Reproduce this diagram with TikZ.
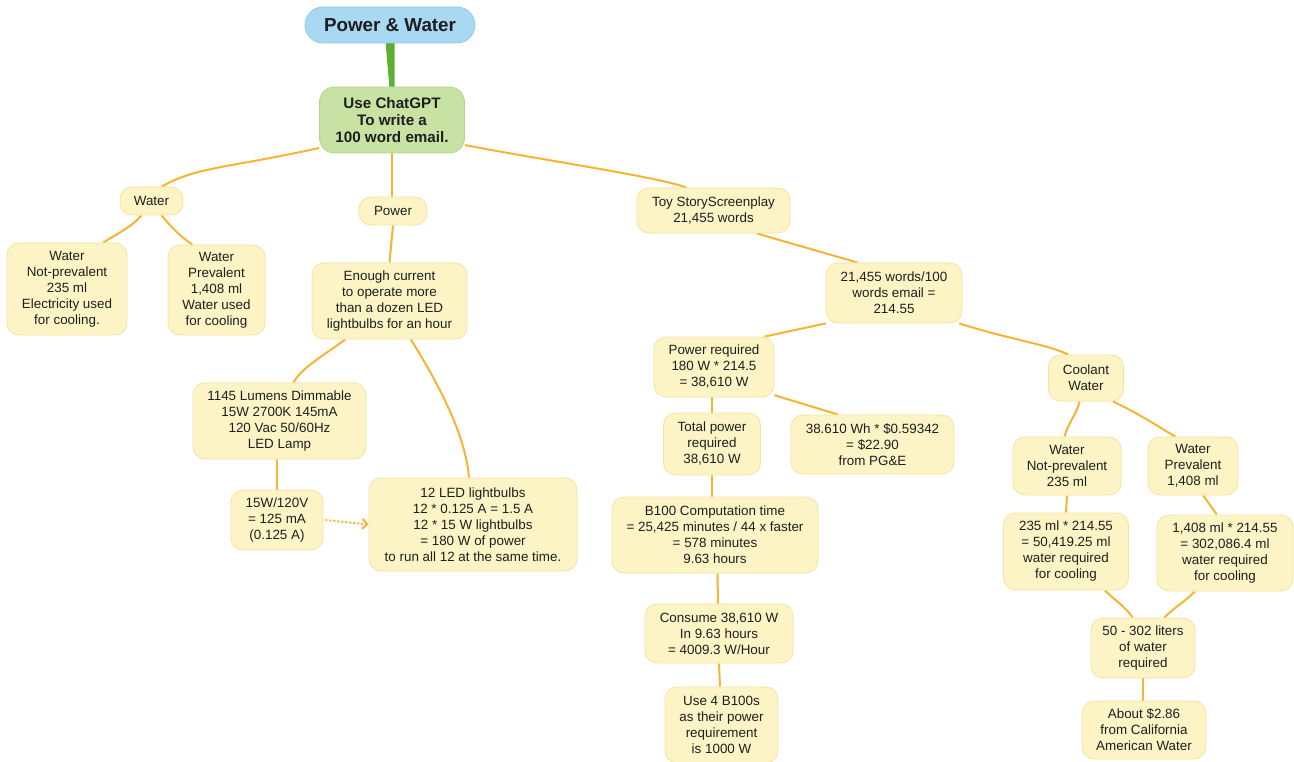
\documentclass[tikz,border=0pt]{standalone}
\usepackage{fontspec}
\setmainfont{Liberation Sans}
\usetikzlibrary{arrows.meta,calc,backgrounds}
\definecolor{yel}{HTML}{FDF4C6}
\definecolor{yelb}{HTML}{F5E2A0}
\definecolor{org}{HTML}{F6B530}
\definecolor{blu}{HTML}{A8D8F2}
\definecolor{blub}{HTML}{8FCBEA}
\definecolor{grn}{HTML}{C7E2A3}
\definecolor{grnb}{HTML}{B3D68C}
\definecolor{grnl}{HTML}{5FAF35}
\definecolor{txt}{HTML}{1E1E1E}
\begin{document}
\begin{tikzpicture}[x=1pt,y=-1pt,
  bx/.style={draw=yelb, fill=yel, line width=0.8pt, rounded corners=12pt, align=center, inner sep=1pt, text=txt, font=\fontsize{13.4}{16}\selectfont},
  wh/.style 2 args={minimum width=#1pt, minimum height=#2pt},
  con/.style={draw=org, line width=2pt},
]
\useasboundingbox (0,0) rectangle (1294,762);

\node[draw=blub, fill=blu, line width=0.8pt, rounded corners=18pt, wh={170}{36}, inner sep=0pt, font=\fontsize{18.8}{22}\selectfont\bfseries, text=txt] (ti) at (390,25) {Power \& Water};
\node[draw=grnb, fill=grn, line width=0.8pt, rounded corners=15pt, wh={145}{66}, inner sep=0pt, align=center, font=\fontsize{15.2}{16.7}\selectfont\bfseries, text=txt] (gr) at (392,120) {Use ChatGPT\\To write a\\100 word email.};

\node[bx, wh={63}{28}] (wat) at (151.5,201) {Water};
\node[bx, wh={68}{28}] (pw) at (393,211) {Power};
\node[bx, wh={153}{45}] (ts) at (713.5,210.5) {Toy StoryScreenplay\\21,455 words};
\node[bx, wh={120}{92}] (wnp) at (67,289) {Water\\Not-prevalent\\235 ml\\Electricity used\\for cooling.};
\node[bx, wh={97}{90}] (wp) at (216.5,290) {Water\\Prevalent\\1,408 ml\\Water used\\for cooling};
\node[bx, wh={155}{76}] (en) at (389.5,301) {Enough current\\to operate more\\than a dozen LED\\lightbulbs for an hour};
\node[bx, wh={173}{76}] (lum) at (279.5,421) {1145 Lumens Dimmable\\15W 2700K 145mA\\120 Vac 50/60Hz\\LED Lamp};
\node[bx, wh={92}{60}] (w15) at (277,520) {15W/120V\\= 125 mA\\(0.125 A)};
\node[bx, wh={208}{93}] (led) at (473,524.5) {12 LED lightbulbs\\12 * 0.125 A = 1.5 A\\12 * 15 W lightbulbs\\= 180 W of power\\to run all 12 at the same time.};
\node[bx, wh={136}{60}] (wd) at (894,293) {21,455 words/100\\words email =\\214.55};
\node[bx, wh={120}{60}] (pr) at (714,367) {Power required\\180 W * 214.5\\= 38,610 W};
\node[bx, wh={75}{46}] (cool) at (1086,378) {Coolant\\Water};
\node[bx, wh={97}{62}] (tot) at (712,444) {Total power\\required\\38,610 W};
\node[bx, wh={163}{59}] (pge) at (872.5,444.5) {38.610 Wh * \$0.59342\\= \$22.90\\from PG\&E};
\node[bx, wh={206}{76}] (b100) at (715,535) {B100 Computation time\\= 25,425 minutes / 44 x faster\\= 578 minutes\\9.63 hours};
\node[bx, wh={108}{58}] (wnp2) at (1067,466) {Water\\Not-prevalent\\235 ml};
\node[bx, wh={90}{58}] (wp2) at (1193,466) {Water\\Prevalent\\1,408 ml};
\node[bx, wh={125}{77}] (c235) at (1066,551.5) {235 ml * 214.55\\= 50,419.25 ml\\water required\\for cooling};
\node[bx, wh={136}{76}] (c1408) at (1225,553) {1,408 ml * 214.55\\= 302,086.4 ml\\water required\\for cooling};
\node[bx, wh={104}{60}] (l50) at (1143,648) {50 - 302 liters\\of water\\required};
\node[bx, wh={124}{58}] (ab) at (1144,730) {About \$2.86\\from California\\American Water};
\node[bx, wh={148}{59}] (cons) at (719,633.5) {Consume 38,610 W\\In 9.63 hours\\= 4009.3 W/Hour};
\node[bx, wh={113}{76}] (u4) at (721.5,725) {Use 4 B100s\\as their power\\requirement\\is 1000 W};

\begin{scope}[on background layer]
\fill[white] (0,0) rectangle (1294,762);
\fill[grnl] ($(ti.south)+(-4.5,-2)$) -- ($(ti.south)+(4.5,-2)$) -- ($(gr.north)+(2.5,2)$) -- ($(gr.north)+(-2.5,2)$) -- cycle;
\draw[con] (gr.201) .. controls +(-90,20) and +(35,-20) .. (wat.55);
\draw[con] (gr.south) -- (gr.south |- pw.north);
\draw[con] (gr.-19) .. controls +(90,17) and +(-25,-10) .. (ts.140);
\draw[con] (wat.235) .. controls +(-10,12) and +(12,-8) .. (wnp.52);
\draw[con] (wat.-55) .. controls +(10,12) and +(-12,-8) .. (wp.118);
\draw[con] (pw.south) -- (en.north);
\draw[con] (en.221) .. controls +(-20,15) and +(8,-15) .. (lum.70);
\draw[con] (en.-61) .. controls +(22,35) and +(-3,-45) .. (led.95);
\draw[con] (w15.north) -- (w15.north |- lum.south);
\draw[con] (ts.-28) -- (wd.140);
\draw[con] (wd.204) -- (pr.31);
\draw[con] (wd.-25) .. controls +(50,16) and +(-20,-10) .. (cool.127);
\draw[con] (tot.north) -- (tot.north |- pr.south);
\draw[con] (pr.-25) -- (pge.139);
\draw[con] (tot.south) -- (tot.south |- b100.north);
\draw[con] ($(b100.south)+(2.5,0)$) -- ($(cons.north)+(-1,0)$);
\draw[con] (cons.south) -- ($(u4.north)+(-1.5,0)$);
\draw[con] (cool.-105) .. controls +(-3,12) and +(3,-12) .. (wnp2.95);
\draw[con] (cool.-41) .. controls +(25,12) and +(-20,-12) .. (wp2.121);
\draw[con] (wnp2.south) -- (c235.north);
\draw[con] (wp2.-71) -- (c1408.102);
\draw[con] (c235.-45) .. controls +(10,10) and +(-6,-10) .. (l50.109);
\draw[con] (c1408.232) .. controls +(-10,10) and +(10,-10) .. (l50.55);
\draw[con] (l50.south) -- (l50.south |- ab.north);
\end{scope}
\draw[org, line width=2pt, dash pattern=on 2pt off 2pt, -{Straight Barb[length=5pt,width=10pt]}] ($(w15.east)+(2,0)$) -- (led.west);
\end{tikzpicture}
\end{document}
